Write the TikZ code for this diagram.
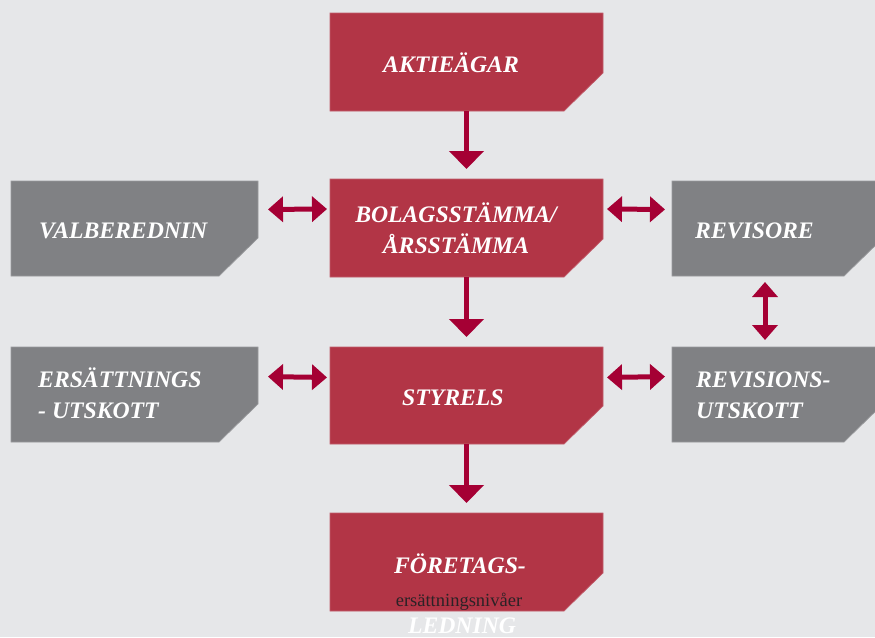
\documentclass[tikz,border=0pt]{standalone}
\usepackage{fontspec}
\setmainfont{Liberation Serif}
\usetikzlibrary{arrows.meta}
\definecolor{bg}{HTML}{E6E7E9}
\definecolor{boxred}{HTML}{B23546}
\definecolor{boxgray}{HTML}{808184}
\definecolor{arrred}{HTML}{A50034}
\definecolor{txtdark}{HTML}{2B2226}
\tikzset{
  box/.style={rectangle, inner sep=0pt, outer sep=0pt},
  lbl/.style={text=white, font=\fontsize{23.7}{30.5}\selectfont\bfseries\itshape, inner sep=0pt},
  downarr/.style={draw=arrred, line width=5pt, -{Triangle[width=34pt,length=18pt]}},
  dblarr/.style={draw=arrred, line width=5pt, {Triangle[width=25pt,length=15pt]}-{Triangle[width=25pt,length=15pt]}},
}
\newcommand{\chambox}[2]{%
  \filldraw[fill=#2, draw=#2!80!white, line width=0.7pt]
    (#1.north west) -- (#1.north east) -- ([yshift=38pt]#1.south east)
    -- ([xshift=-39pt]#1.south east) -- (#1.south west) -- cycle;}
\begin{document}
\begin{tikzpicture}[x=1pt,y=-1pt]
\useasboundingbox (0,0) rectangle (875,637);
\fill[bg] (0,0) rectangle (875,637);
% box frames
\node[box, minimum width=273pt, minimum height=98pt, anchor=north west] (aktie) at (330,13) {};
\node[box, minimum width=273pt, minimum height=98pt, anchor=north west] (bolag) at (330,179) {};
\node[box, minimum width=273pt, minimum height=97pt, anchor=north west] (styr) at (330,347) {};
\node[box, minimum width=273pt, minimum height=98pt, anchor=north west] (foret) at (330,513) {};
\node[box, minimum width=247pt, minimum height=95pt, anchor=north west] (valb) at (11,181) {};
\node[box, minimum width=247pt, minimum height=95pt, anchor=north west] (ers) at (11,347) {};
\node[box, minimum width=211pt, minimum height=95pt, anchor=north west] (revis) at (672,181) {};
\node[box, minimum width=211pt, minimum height=95pt, anchor=north west] (revut) at (672,347) {};
\chambox{aktie}{boxred}
\chambox{bolag}{boxred}
\chambox{styr}{boxred}
\chambox{foret}{boxred}
\chambox{valb}{boxgray}
\chambox{ers}{boxgray}
\chambox{revis}{boxgray}
\chambox{revut}{boxgray}
% labels
\node[lbl, anchor=base west] (taktie) at (383,72) {AKTIEÄGAR};
\node[lbl, anchor=base, align=center] (tbolag) at (456,253) {BOLAGSSTÄMMA/\\ÅRSSTÄMMA};
\node[lbl, anchor=base west] (tstyr) at (402,405) {STYRELS};
\node[lbl, anchor=base west] (tvalb) at (39,238) {VALBEREDNIN};
\node[lbl, anchor=base west, align=left] (ters) at (38,418) {ERSÄTTNINGS\\- UTSKOTT};
\node[lbl, anchor=base west] (trevis) at (695,238) {REVISORE};
\node[lbl, anchor=base west, align=left] (trevut) at (696,418) {REVISIONS-\\UTSKOTT};
\node[lbl, anchor=base] (tforet) at (460,573) {FÖRETAGS-};
\node[inner sep=0pt, anchor=base, text=txtdark, font=\fontsize{18.5}{20}\selectfont] (tniva) at (459,606) {ersättningsnivåer};
\node[lbl, anchor=base] (tled) at (462,633) {LEDNING};
% arrows
\draw[downarr, shorten >=10pt] (aktie.south) -- (bolag.north);
\draw[downarr, shorten >=10pt] (bolag.south) -- (styr.north);
\draw[downarr, shorten >=10pt] (styr.south) -- (foret.north);
\draw[dblarr, shorten <=10pt, shorten >=3pt] ([yshift=19pt]valb.east) -- ([yshift=19pt]bolag.west);
\draw[dblarr, shorten <=4pt, shorten >=7pt] ([yshift=19pt]bolag.east) -- ([yshift=19pt]revis.west);
\draw[dblarr, shorten <=10pt, shorten >=3pt] ([yshift=18pt]ers.east) -- ([yshift=18pt]styr.west);
\draw[dblarr, shorten <=4pt, shorten >=7pt] ([yshift=18pt]styr.east) -- ([yshift=18pt]revut.west);
\draw[dblarr, shorten <=6pt, shorten >=7pt] ([xshift=-12.5pt]revis.south) -- ([xshift=-12.5pt]revut.north);
\end{tikzpicture}
\end{document}
